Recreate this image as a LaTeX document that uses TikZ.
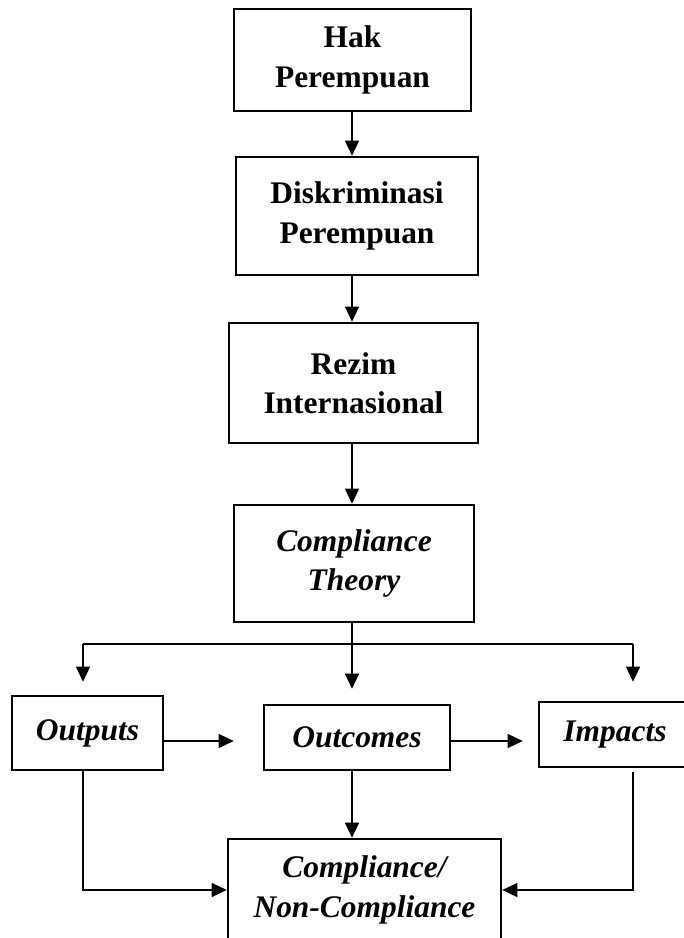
\documentclass[tikz,border=0pt]{standalone}
\usepackage{fontspec}
\setmainfont{Liberation Serif}
\usepackage{tikz}
\usetikzlibrary{arrows.meta,calc}

\begin{document}
\begin{tikzpicture}[
  x=0.02cm, y=-0.02cm,
  font=\fontsize{17.9}{22.5}\selectfont\bfseries,
  box/.style 2 args={
    rectangle, draw=black, line width=1.5pt,
    minimum width=#1, minimum height=#2,
    inner sep=0pt, align=center
  },
  ital/.style={font=\fontsize{17.9}{22.5}\selectfont\bfseries\itshape},
  link/.style={line width=0.75pt},
  arr/.style={-{Triangle[length=0.3cm,width=0.28cm]}, line width=0.75pt}
]
\clip (0,0) rectangle (684,938);

\node[box={4.74cm}{2.04cm}] (hak) at (352.5,60) {Hak\\Perempuan};
\node[box={4.84cm}{2.36cm}] (diskriminasi) at (357,216) {Diskriminasi\\Perempuan};
\node[box={4.98cm}{2.40cm}] (rezim) at (353.5,383) {Rezim\\Internasional};
\node[box={4.80cm}{2.34cm}, ital] (theory) at (354,563.5) {Compliance\\Theory};

\node[box={3.02cm}{1.48cm}, ital] (outputs) at (87.5,733) {Outputs};
\node[box={3.72cm}{1.30cm}, ital] (outcomes) at (357,737.5) {Outcomes};
\node[box={3.04cm}{1.30cm}, ital] (impacts) at (615,734.5) {Impacts};
\node[box={5.46cm}{2.04cm}, ital] (final) at (364.5,890) {Compliance/\\Non-Compliance};

\coordinate (axis) at (352,0);
\coordinate (lcol) at (83,644);
\coordinate (rcol) at (633,644);
\coordinate (row) at (0,741);

\draw[arr] (axis |- hak.south) -- (axis |- diskriminasi.north);
\draw[arr] (axis |- diskriminasi.south) -- (axis |- rezim.north);
\draw[arr] (axis |- rezim.south) -- (axis |- theory.north);
\draw[arr, shorten >=0.3cm] (axis |- theory.south) -- (axis |- outcomes.north);
\draw[link] (lcol) -- (rcol);
\draw[arr, shorten >=0.26cm] (lcol) -- (lcol |- outputs.north);
\draw[arr, shorten >=0.38cm] (rcol) -- (rcol |- impacts.north);
\draw[arr, shorten >=0.58cm] (outputs.east |- row) -- (outcomes.west |- row);
\draw[arr, shorten >=0.3cm] (outcomes.east |- row) -- (impacts.west |- row);
\draw[arr] (axis |- outcomes.south) -- (axis |- final.north);
\draw[arr] (lcol |- outputs.south) |- (final.west);
\draw[arr, shorten <=0.08cm] (rcol |- impacts.south) |- (final.east);
\end{tikzpicture}
\end{document}
